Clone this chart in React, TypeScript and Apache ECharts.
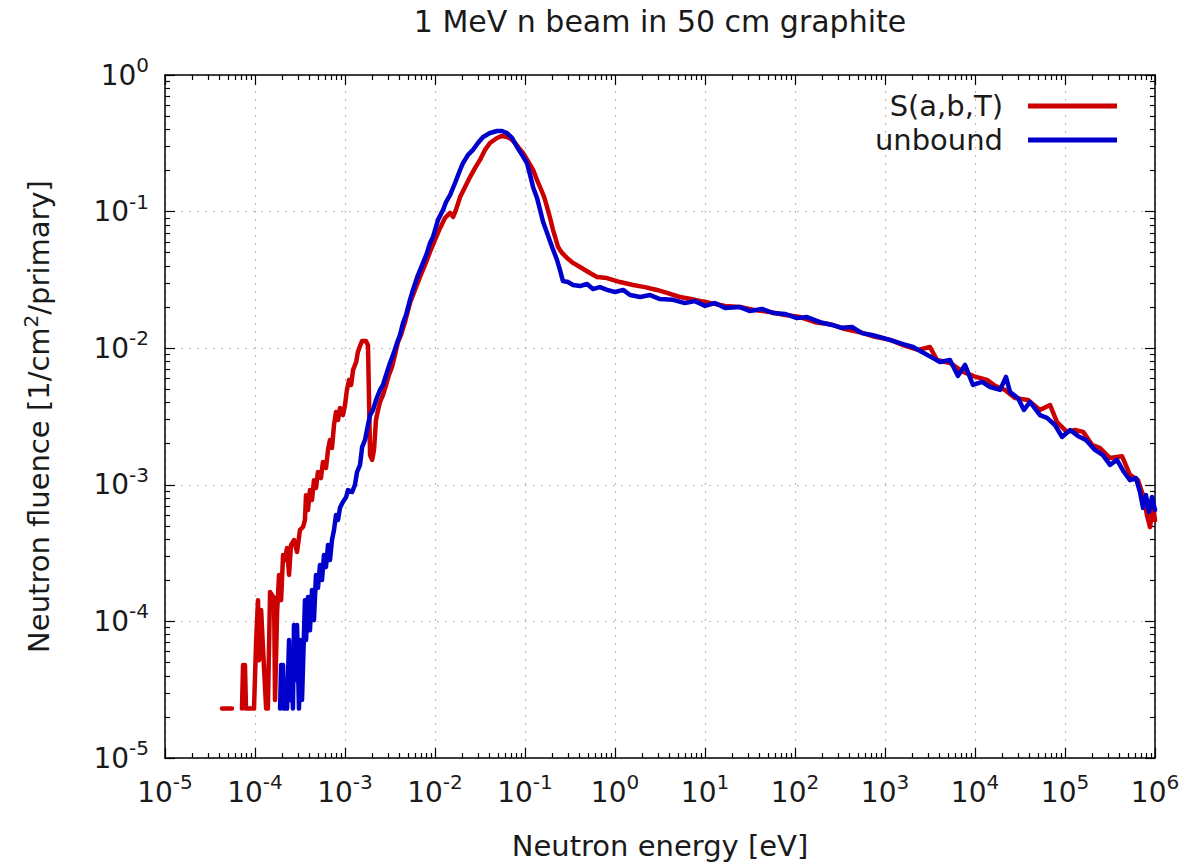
import React, { useEffect, useRef } from 'react';
import * as echarts from 'echarts';

const chartTitle = '1 MeV n beam in 50 cm graphite';
const xAxisName = 'Neutron energy [eV]';
const yAxisName = 'Neutron fluence [1/cm{sup|2}/primary]';
const seriesNames = ['S(a,b,T)', 'unbound'];

const xDecades = [1e-5, 1e-4, 1e-3, 1e-2, 1e-1, 1e0, 1e1, 1e2, 1e3, 1e4, 1e5, 1e6];
const yDecades = [1e-5, 1e-4, 1e-3, 1e-2, 1e-1, 1e0];
const minorMantissas = [2, 3, 4, 5, 6, 7, 8, 9];

// S(a,b,T) (bound graphite) spectrum: energy [eV] and fluence [1/cm2/primary]; null = empty bin
const sabtEnergy = [
  4.3e-5, 5.55e-5, 6.3e-5, 7.17e-5, 7.36e-5, 7.74e-5, 7.94e-5, 9.75e-5,
  1.03e-4, 1.08e-4, 1.11e-4, 1.17e-4, 1.23e-4, 1.33e-4, 1.39e-4, 1.47e-4, 1.63e-4, 1.67e-4, 1.76e-4, 1.85e-4, 1.95e-4,
  2.05e-4, 2.15e-4, 2.27e-4, 2.39e-4, 2.51e-4, 2.71e-4, 2.93e-4, 3.16e-4, 3.42e-4, 3.59e-4, 3.69e-4, 3.88e-4, 4.08e-4, 4.3e-4,
  4.52e-4, 4.76e-4, 5.01e-4, 5.41e-4, 5.69e-4, 6.15e-4, 6.47e-4, 6.81e-4, 7.17e-4, 7.55e-4, 7.94e-4, 8.36e-4, 8.8e-4, 9.5e-4,
  1.0e-3, 1.05e-3, 1.11e-3, 1.17e-3, 1.23e-3, 1.33e-3, 1.39e-3, 1.47e-3, 1.55e-3, 1.71e-3, 1.8e-3, 1.85e-3, 1.9e-3, 2.0e-3,
  2.1e-3, 2.21e-3, 2.33e-3, 2.45e-3, 2.64e-3, 2.86e-3, 3.08e-3, 3.33e-3, 3.59e-3, 3.88e-3, 4.19e-3, 4.64e-3, 5.27e-3, 5.99e-3,
  6.81e-3, 7.74e-3, 8.8e-3,
  1.0e-2, 1.14e-2, 1.29e-2, 1.47e-2, 1.59e-2, 1.71e-2, 1.9e-2, 2.15e-2, 2.45e-2, 2.78e-2, 3.16e-2, 3.59e-2, 4.08e-2, 4.89e-2,
  5.55e-2, 6.31e-2, 6.99e-2, 7.74e-2, 8.58e-2, 9.5e-2,
  0.108, 0.123, 0.136, 0.147, 0.163, 0.176, 0.19, 0.205, 0.221, 0.233, 0.258, 0.293, 0.342, 0.408, 0.527, 0.631, 0.815,
  1.14, 1.59, 2.15, 2.93, 3.78, 5.27, 7.74, 11.4, 16.7, 24.5, 35.9, 52.7, 77.4, 114, 167, 245, 359, 527, 774, 1140, 1670, 2330,
  3160, 3780, 5270, 7360, 1.0e4, 1.36e4, 1.67e4, 2.15e4, 2.78e4, 3.88e4, 5.27e4, 6.81e4, 8.15e4, 1.05e5, 1.29e5, 1.59e5,
  2.0e5, 2.45e5, 3.16e5, 4.3e5, 5.27e5, 6.47e5, 7.36e5, 8.15e5, 8.8e5, 9.5e5, 1.0e6,
];
const sabtFluence = [
  2.3e-5, 2.3e-5, null, 2.3e-5, 4.8e-5, 4.8e-5, 2.3e-5, 2.3e-5,
  7.3e-5, 1.43e-4, 5.2e-5, 1.21e-4, 6.2e-5, 2.3e-5, 2.3e-5, 1.64e-4, 1.48e-4, 2.66e-5, 1.17e-4, 2.19e-4, 1.43e-4,
  3.06e-4, 2.81e-4, 3.45e-4, 2.19e-4, 3.62e-4, 3.94e-4, 3.22e-4, 4.67e-4, 4.91e-4, 5.53e-4, 8.4e-4, 6.54e-4, 9.15e-4, 7.74e-4,
  1.08e-3, 9.5e-4, 1.24e-3, 1.12e-3, 1.47e-3, 1.33e-3, 1.8e-3, 2.13e-3, 1.86e-3, 2.74e-3, 3.41e-3, 2.98e-3, 3.65e-3, 3.24e-3,
  3.84e-3, 4.95e-3, 5.86e-3, 5.38e-3, 6.94e-3, 7.92e-3, 9.38e-3, 1.04e-2, 1.13e-2, 1.13e-2, 1.05e-2, 4.17e-3, 1.65e-3, 1.52e-3,
  1.8e-3, 2.98e-3, 3.53e-3, 4.04e-3, 4.54e-3, 5.38e-3, 6.37e-3, 7.29e-3, 8.93e-3, 1.11e-2, 1.25e-2, 1.55e-2, 2.14e-2, 2.67e-2,
  3.32e-2, 4.07e-2, 5.06e-2,
  6.2e-2, 7.59e-2, 8.98e-2, 9.78e-2, 9.13e-2, 0.103, 0.128, 0.151, 0.179, 0.208, 0.239, 0.283, 0.318, 0.346,
  0.358, 0.352, 0.34, 0.318, 0.292, 0.269,
  0.234, 0.202, 0.17, 0.151, 0.128, 0.108, 8.98e-2, 7.33e-2, 6.2e-2, 5.51e-2, 4.98e-2, 4.58e-2, 4.21e-2, 3.93e-2, 3.55e-2, 3.32e-2, 3.26e-2,
  3.05e-2, 2.9e-2, 2.8e-2, 2.67e-2, 2.54e-2, 2.37e-2, 2.26e-2, 2.14e-2, 2.04e-2, 2.0e-2, 1.9e-2, 1.84e-2, 1.75e-2, 1.69e-2, 1.55e-2, 1.5e-2, 1.38e-2, 1.31e-2, 1.21e-2, 1.15e-2, 1.04e-2, 9.72e-3,
  1.02e-2, 8.2e-3, 7.8e-3, 6.7e-3, 6.2e-3, 5.86e-3, 5.3e-3, 4.95e-3, 4.32e-3, 4.17e-3, 3.53e-3, 3.84e-3, 2.88e-3, 2.44e-3, 2.52e-3, 2.44e-3,
  1.96e-3, 1.86e-3, 1.57e-3, 1.62e-3, 1.18e-3, 1.08e-3, 8.4e-4, 6.0e-4, 4.9e-4, 7.1e-4, 5.5e-4,
];

// unbound carbon spectrum
const unboundEnergy = [
  1.9e-4, 1.95e-4, 2.05e-4, 2.1e-4, 2.27e-4, 2.39e-4, 2.45e-4, 2.51e-4, 2.64e-4, 2.71e-4, 2.86e-4, 2.93e-4, 3.08e-4, 3.16e-4,
  3.33e-4, 3.42e-4, 3.59e-4, 3.69e-4, 3.88e-4, 4.08e-4, 4.3e-4, 4.52e-4, 4.76e-4, 5.01e-4, 5.27e-4, 5.55e-4, 5.84e-4, 6.15e-4,
  6.47e-4, 6.81e-4, 7.17e-4, 7.55e-4, 7.94e-4, 8.36e-4, 8.8e-4, 9.5e-4,
  1.03e-3, 1.08e-3, 1.2e-3, 1.29e-3, 1.36e-3, 1.47e-3, 1.55e-3, 1.67e-3, 1.8e-3, 1.9e-3, 2.05e-3, 2.21e-3, 2.45e-3, 2.64e-3,
  2.86e-3, 3.16e-3, 3.42e-3, 3.78e-3, 4.08e-3, 4.41e-3, 4.76e-3, 5.27e-3, 5.69e-3, 6.47e-3, 7.36e-3, 8.15e-3, 8.8e-3, 9.5e-3,
  1.08e-2, 1.23e-2, 1.33e-2, 1.47e-2, 1.67e-2, 1.9e-2, 2.05e-2, 2.33e-2, 2.64e-2, 3.0e-2, 3.42e-2, 4.08e-2, 4.89e-2, 5.55e-2,
  6.31e-2, 7.17e-2, 8.15e-2, 9.26e-2,
  0.105, 0.114, 0.123, 0.136, 0.147, 0.159, 0.176, 0.2, 0.227, 0.245, 0.264, 0.3, 0.342, 0.408, 0.489, 0.569, 0.681, 0.815,
  1.0, 1.23, 1.47, 1.9, 2.45, 3.16, 4.41, 5.99, 7.74, 10, 12.9, 16.7, 24.5, 31.6, 43.0, 56.9, 77.4, 105, 136, 190, 258, 333,
  430, 555, 717, 950,
  1230, 1590, 2050, 2580, 3420, 4080, 5270, 6470, 7740, 9500,
  1.2e4, 1.47e4, 1.9e4, 2.21e4, 2.45e4, 3.0e4, 3.5e4, 4.08e4, 5.27e4, 6.31e4, 7.74e4, 9.26e4,
  1.14e5, 1.39e5, 1.71e5, 2.15e5, 2.64e5, 3.16e5, 3.78e5, 4.52e5, 5.27e5, 6.15e5, 6.81e5, 7.36e5, 7.94e5, 8.58e5, 9.26e5, 1.0e6,
];
const unboundFluence = [
  2.3e-5, 4.8e-5, 4.8e-5, 2.3e-5, 2.3e-5, 7.3e-5, 2.66e-5, 5.2e-5, 2.3e-5, 9.4e-5, 3.72e-5, 9.4e-5, 2.3e-5, 7.3e-5,
  2.66e-5, 4.8e-5, 1.43e-4, 7.3e-5, 1.51e-4, 8.6e-5, 1.7e-4, 1.02e-4, 2.19e-4, 1.76e-4, 2.59e-4, 2.01e-4, 3.06e-4, 2.5e-4,
  3.62e-4, 2.81e-4, 3.94e-4, 4.67e-4, 6.0e-4, 5.53e-4, 6.78e-4, 7.5e-4,
  8.14e-4, 9.15e-4, 8.85e-4, 1.0e-3, 1.24e-3, 1.4e-3, 1.89e-3, 2.13e-3, 2.74e-3, 3.24e-3, 3.53e-3, 4.17e-3, 4.95e-3, 5.38e-3,
  6.37e-3, 7.8e-3, 8.93e-3, 1.09e-2, 1.25e-2, 1.53e-2, 1.75e-2, 2.26e-2, 2.67e-2, 3.43e-2, 4.21e-2, 4.98e-2, 5.9e-2, 6.52e-2,
  8.7e-2, 0.103, 0.118, 0.132, 0.162, 0.202, 0.227, 0.26, 0.283, 0.318, 0.352, 0.376, 0.389, 0.389,
  0.376, 0.346, 0.297, 0.26,
  0.227, 0.185, 0.151, 0.126, 0.103, 8.4e-2, 6.98e-2, 5.51e-2, 4.42e-2, 3.73e-2, 3.1e-2, 3.05e-2, 2.9e-2, 2.85e-2, 2.95e-2, 2.71e-2, 2.8e-2, 2.67e-2,
  2.58e-2, 2.67e-2, 2.45e-2, 2.37e-2, 2.45e-2, 2.29e-2, 2.26e-2, 2.14e-2, 2.21e-2, 2.04e-2, 2.14e-2, 1.97e-2, 2.0e-2, 1.87e-2, 1.94e-2, 1.81e-2, 1.78e-2, 1.66e-2, 1.69e-2, 1.55e-2, 1.48e-2, 1.41e-2,
  1.43e-2, 1.29e-2, 1.25e-2, 1.19e-2,
  1.13e-2, 1.07e-2, 1.02e-2, 9.38e-3, 8.46e-3, 7.92e-3, 8.2e-3, 6.27e-3, 7.54e-3, 5.38e-3,
  5.66e-3, 5.2e-3, 4.95e-3, 6.16e-3, 4.77e-3, 4.32e-3, 3.53e-3, 4.04e-3, 3.24e-3, 3.09e-3, 2.74e-3, 2.24e-3,
  2.52e-3, 2.28e-3, 2.13e-3, 1.8e-3, 1.65e-3, 1.4e-3, 1.52e-3, 1.24e-3, 1.08e-3, 1.12e-3, 8.85e-4, 6.78e-4, 8.4e-4, 6.33e-4, 8.14e-4, 6.54e-4,
];

const FONT = 'DejaVu Sans';
const TEXT = '#1a1a1a';
const RED = '#cc0000';
const BLUE = '#0000cc';

const minorOf = (decades: number[]) =>
  decades.slice(0, -1).flatMap((d) => minorMantissas.map((m) => m * d));

const supLabel = (v: number) => `10{sup|${Math.round(Math.log10(v))}}`;

const supStyle = { fontFamily: FONT, fontSize: 20, lineHeight: 20, verticalAlign: 'top', color: TEXT };

// Main log axis: scale of the data, labels, border line
function mainAxis(dim: 'x' | 'y', decades: number[]) {
  return {
    type: 'log',
    logBase: 10,
    min: decades[0],
    max: decades[decades.length - 1],
    position: dim === 'x' ? 'bottom' : 'left',
    gridIndex: 0,
    silent: true,
    name: dim === 'x' ? xAxisName : yAxisName,
    nameLocation: 'middle',
    nameGap: dim === 'x' ? 70 : 108,
    nameRotate: dim === 'x' ? 0 : 90,
    nameTextStyle: {
      fontFamily: FONT,
      fontSize: 29,
      color: TEXT,
      lineHeight: 36,
      rich: { sup: supStyle },
    },
    axisLine: { show: true, onZero: false, lineStyle: { color: '#000', width: 1.5 } },
    axisTick: { show: false, customValues: decades },
    axisLabel: {
      show: true,
      customValues: decades,
      formatter: supLabel,
      fontFamily: FONT,
      fontSize: 28,
      lineHeight: 40,
      color: TEXT,
      margin: dim === 'x' ? 14 : 16,
      showMinLabel: true,
      showMaxLabel: true,
      hideOverlap: false,
      rich: { sup: supStyle },
    },
    splitLine: { show: false },
    minorTick: { show: false },
    minorSplitLine: { show: false },
  };
}

// Tick-only axes (and the dotted grid), on a linear scale of the decade exponent
function tickAxis(position: string, decades: number[], major: boolean, withLine: boolean, withGrid: boolean) {
  const lo = Math.log10(decades[0]);
  const hi = Math.log10(decades[decades.length - 1]);
  const ticks = (major ? decades : minorOf(decades)).map((v) => Math.log10(v));
  return {
    type: 'value',
    min: lo,
    max: hi,
    position,
    gridIndex: 0,
    silent: true,
    axisLine: { show: withLine, onZero: false, lineStyle: { color: '#000', width: 1.5 } },
    axisTick: {
      show: true,
      inside: true,
      length: major ? 10 : 5,
      customValues: ticks,
      lineStyle: { color: '#000', width: 1.2 },
    },
    axisLabel: { show: false },
    splitLine: { show: withGrid, lineStyle: { color: '#a8a8a8', width: 1.2, type: [1.5, 6.5] } },
    minorTick: { show: false },
    minorSplitLine: { show: false },
  };
}

const toPairs = (xs: number[], ys: (number | null)[]) =>
  xs.map((x, i) => [x, ys[i] == null ? '-' : ys[i]]);

export default function App() {
  const ref = useRef<HTMLDivElement>(null);
  useEffect(() => {
    document.body.style.margin = '0';
    const chart = echarts.init(ref.current!, null, { renderer: 'svg' });
    const option: any = {
      animation: false,
      backgroundColor: '#ffffff',
      textStyle: { fontFamily: FONT },
      graphic: [
        {
          type: 'text',
          x: 660,
          y: 21,
          silent: true,
          style: {
            text: chartTitle,
            fontFamily: FONT,
            fontSize: 30,
            fill: TEXT,
            align: 'center',
            verticalAlign: 'middle',
          },
        },
      ],
      grid: { left: 165, right: 48, top: 75, bottom: 106, containLabel: false, outerBoundsMode: 'none' },
      legend: {
        orient: 'vertical',
        right: 86,
        top: 89,
        padding: 0,
        align: 'right',
        icon: 'rect',
        itemWidth: 89,
        itemHeight: 5,
        itemGap: 0,
        selectedMode: false,
        textStyle: { fontFamily: FONT, fontSize: 29, lineHeight: 34, color: TEXT, padding: [0, 20, 0, 0] },
        data: seriesNames.map((name) => ({ name })),
      },
      xAxis: [
        mainAxis('x', xDecades),
        tickAxis('bottom', xDecades, true, false, true),
        tickAxis('bottom', xDecades, false, false, false),
        tickAxis('top', xDecades, true, true, false),
        tickAxis('top', xDecades, false, false, false),
      ],
      yAxis: [
        mainAxis('y', yDecades),
        tickAxis('left', yDecades, true, false, true),
        tickAxis('left', yDecades, false, false, false),
        tickAxis('right', yDecades, true, true, false),
        tickAxis('right', yDecades, false, false, false),
      ],
      series: [
        {
          name: seriesNames[0],
          type: 'line',
          xAxisIndex: 0,
          yAxisIndex: 0,
          data: toPairs(sabtEnergy, sabtFluence),
          symbol: 'none',
          showSymbol: false,
          connectNulls: false,
          clip: true,
          color: RED,
          lineStyle: { color: RED, width: 4.5, join: 'round', cap: 'round' },
          z: 3,
        },
        {
          name: seriesNames[1],
          type: 'line',
          xAxisIndex: 0,
          yAxisIndex: 0,
          data: toPairs(unboundEnergy, unboundFluence),
          symbol: 'none',
          showSymbol: false,
          connectNulls: false,
          clip: true,
          color: BLUE,
          lineStyle: { color: BLUE, width: 4.5, join: 'round', cap: 'round' },
          z: 4,
        },
      ],
    };
    chart.setOption(option);
    return () => chart.dispose();
  }, []);
  return <div ref={ref} style={{ width: 1203, height: 864 }} />;
}
